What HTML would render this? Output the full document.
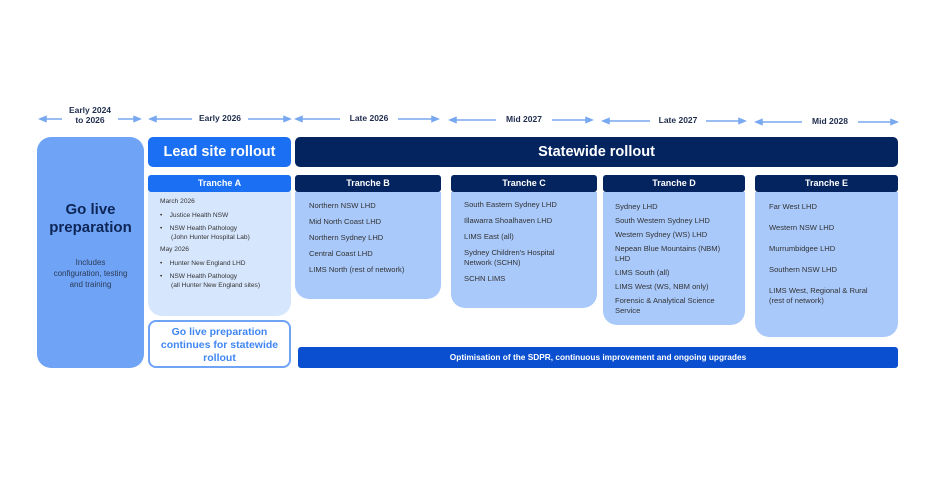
<!DOCTYPE html>
<html><head><meta charset="utf-8"><style>
*{margin:0;padding:0;box-sizing:border-box}
body{width:944px;height:497px;background:#fff;position:relative;font-family:"Liberation Sans",Arial,sans-serif;overflow:hidden}
.a{position:absolute}
.tl{position:absolute;font-size:8.5px;font-weight:bold;color:#1f2d4d;text-align:center;background:#fff;padding:0 5px;line-height:10px}
.ln{position:absolute;height:2px;background:#78a8f0}
.hd{position:absolute;height:17px;border-radius:3px;color:#fff;font-weight:bold;font-size:9px;text-align:center;line-height:17px}
.bd{position:absolute;border-radius:0 0 14px 14px;font-size:7.6px;color:#333;line-height:10px}
.bd p{margin-bottom:6px}
</style></head><body>
<svg class="a" style="left:0;top:0" width="944" height="140">
<g stroke="#78a8f0" stroke-width="1.5" fill="#78a8f0">
<line x1="44" y1="119" x2="62" y2="119"/><polygon points="40,119 46,116.5 46,121.5"/>
<line x1="118" y1="119" x2="136" y2="119"/><polygon points="140,119 134,116.5 134,121.5"/>
<line x1="154" y1="119" x2="192" y2="119"/><polygon points="150,119 156,116.5 156,121.5"/>
<line x1="248" y1="119" x2="286" y2="119"/><polygon points="290,119 284,116.5 284,121.5"/>
<line x1="300" y1="119" x2="340" y2="119"/><polygon points="296,119 302,116.5 302,121.5"/>
<line x1="398" y1="119" x2="434" y2="119"/><polygon points="438,119 432,116.5 432,121.5"/>
<line x1="454" y1="120" x2="496" y2="120"/><polygon points="450,120 456,117.5 456,122.5"/>
<line x1="552" y1="120" x2="588" y2="120"/><polygon points="592,120 586,117.5 586,122.5"/>
<line x1="607" y1="121" x2="650" y2="121"/><polygon points="603,121 609,118.5 609,123.5"/>
<line x1="706" y1="121" x2="741" y2="121"/><polygon points="745,121 739,118.5 739,123.5"/>
<line x1="760" y1="122" x2="802" y2="122"/><polygon points="756,122 762,119.5 762,124.5"/>
<line x1="858" y1="122" x2="893" y2="122"/><polygon points="897,122 891,119.5 891,124.5"/>
</g></svg>
<div class="tl" style="left:62px;top:105px;width:56px;padding:0">Early 2024<br>to 2026</div>
<div class="tl" style="left:192px;top:113px;width:56px;padding:0">Early 2026</div>
<div class="tl" style="left:340px;top:113px;width:58px;padding:0">Late 2026</div>
<div class="tl" style="left:496px;top:114px;width:56px;padding:0">Mid 2027</div>
<div class="tl" style="left:650px;top:115px;width:56px;padding:0">Late 2027</div>
<div class="tl" style="left:802px;top:116px;width:56px;padding:0">Mid 2028</div>

<div class="a" style="left:37px;top:137px;width:107px;height:231px;background:#6fa3f5;border-radius:14px;text-align:center">
<div style="margin-top:64px;font-size:15px;font-weight:bold;color:#0d2557;line-height:18px">Go live<br>preparation</div>
<div style="margin-top:20px;font-size:8px;color:#2b3a55;line-height:11px">Includes<br>configuration, testing<br>and training</div>
</div>

<div class="a" style="left:148px;top:137px;width:143px;height:30px;background:#1a6ff2;border-radius:5px;color:#fff;font-weight:bold;font-size:14.5px;text-align:center;line-height:30px">Lead site rollout</div>
<div class="a" style="left:295px;top:137px;width:603px;height:30px;background:#04245f;border-radius:5px;color:#fff;font-weight:bold;font-size:14.5px;text-align:center;line-height:30px">Statewide rollout</div>

<div class="hd" style="left:148px;top:175px;width:143px;background:#1a6ff2">Tranche A</div>
<div class="hd" style="left:295px;top:175px;width:146px;background:#04245f">Tranche B</div>
<div class="hd" style="left:451px;top:175px;width:146px;background:#04245f">Tranche C</div>
<div class="hd" style="left:603px;top:175px;width:142px;background:#04245f">Tranche D</div>
<div class="hd" style="left:755px;top:175px;width:143px;background:#04245f">Tranche E</div>

<div class="bd" style="left:148px;top:192px;width:143px;height:124px;background:#d6e6fd;font-size:6.6px;line-height:8.5px;padding:6px 0 0 12px">
<p style="margin-bottom:5px">March 2026</p>
<p style="margin-bottom:5px">•&nbsp;&nbsp;&nbsp;&nbsp;Justice Health NSW</p>
<p style="margin-bottom:4px">•&nbsp;&nbsp;&nbsp;&nbsp;NSW Health Pathology<br>&nbsp;&nbsp;&nbsp;&nbsp;&nbsp;&nbsp;(John Hunter Hospital Lab)</p>
<p style="margin-bottom:5px">May 2026</p>
<p style="margin-bottom:5px">•&nbsp;&nbsp;&nbsp;&nbsp;Hunter New England LHD</p>
<p>•&nbsp;&nbsp;&nbsp;&nbsp;NSW Health Pathology<br>&nbsp;&nbsp;&nbsp;&nbsp;&nbsp;&nbsp;(all Hunter New England sites)</p>
</div>
<div class="bd" style="left:295px;top:192px;width:146px;height:107px;background:#a9c9fb;padding:9px 0 0 14px">
<p>Northern NSW LHD</p><p>Mid North Coast LHD</p><p>Northern Sydney LHD</p><p>Central Coast LHD</p><p>LIMS North (rest of network)</p>
</div>
<div class="bd" style="left:451px;top:192px;width:146px;height:116px;background:#a9c9fb;padding:8px 0 0 13px">
<p>South Eastern Sydney LHD</p><p>Illawarra Shoalhaven LHD</p><p>LIMS East (all)</p><p>Sydney Children's Hospital<br>Network (SCHN)</p><p>SCHN LIMS</p>
</div>
<div class="bd" style="left:603px;top:192px;width:142px;height:133px;background:#a9c9fb;padding:10px 0 0 12px">
<p style="margin-bottom:4px">Sydney LHD</p><p style="margin-bottom:4px">South Western Sydney LHD</p><p style="margin-bottom:4px">Western Sydney (WS) LHD</p><p style="margin-bottom:4px">Nepean Blue Mountains (NBM)<br>LHD</p><p style="margin-bottom:4px">LIMS South (all)</p><p style="margin-bottom:4px">LIMS West (WS, NBM only)</p><p>Forensic &amp; Analytical Science<br>Service</p>
</div>
<div class="bd" style="left:755px;top:192px;width:143px;height:145px;background:#a9c9fb;padding:10px 0 0 14px">
<p style="margin-bottom:11px">Far West LHD</p><p style="margin-bottom:11px">Western NSW LHD</p><p style="margin-bottom:11px">Murrumbidgee LHD</p><p style="margin-bottom:11px">Southern NSW LHD</p><p>LIMS West, Regional &amp; Rural<br>(rest of network)</p>
</div>

<div class="a" style="left:148px;top:320px;width:143px;height:48px;border:2px solid #6fa3f5;border-radius:8px;background:#fff;color:#3f86f2;font-weight:bold;font-size:10.5px;line-height:13px;text-align:center;padding-top:4px">Go live preparation<br>continues for statewide<br>rollout</div>

<div class="a" style="left:298px;top:347px;width:600px;height:21px;background:#0a4fcf;border-radius:3px;color:#fff;font-weight:bold;font-size:8.3px;text-align:center;line-height:21px">Optimisation of the SDPR, continuous improvement and ongoing upgrades</div>
</body></html>
